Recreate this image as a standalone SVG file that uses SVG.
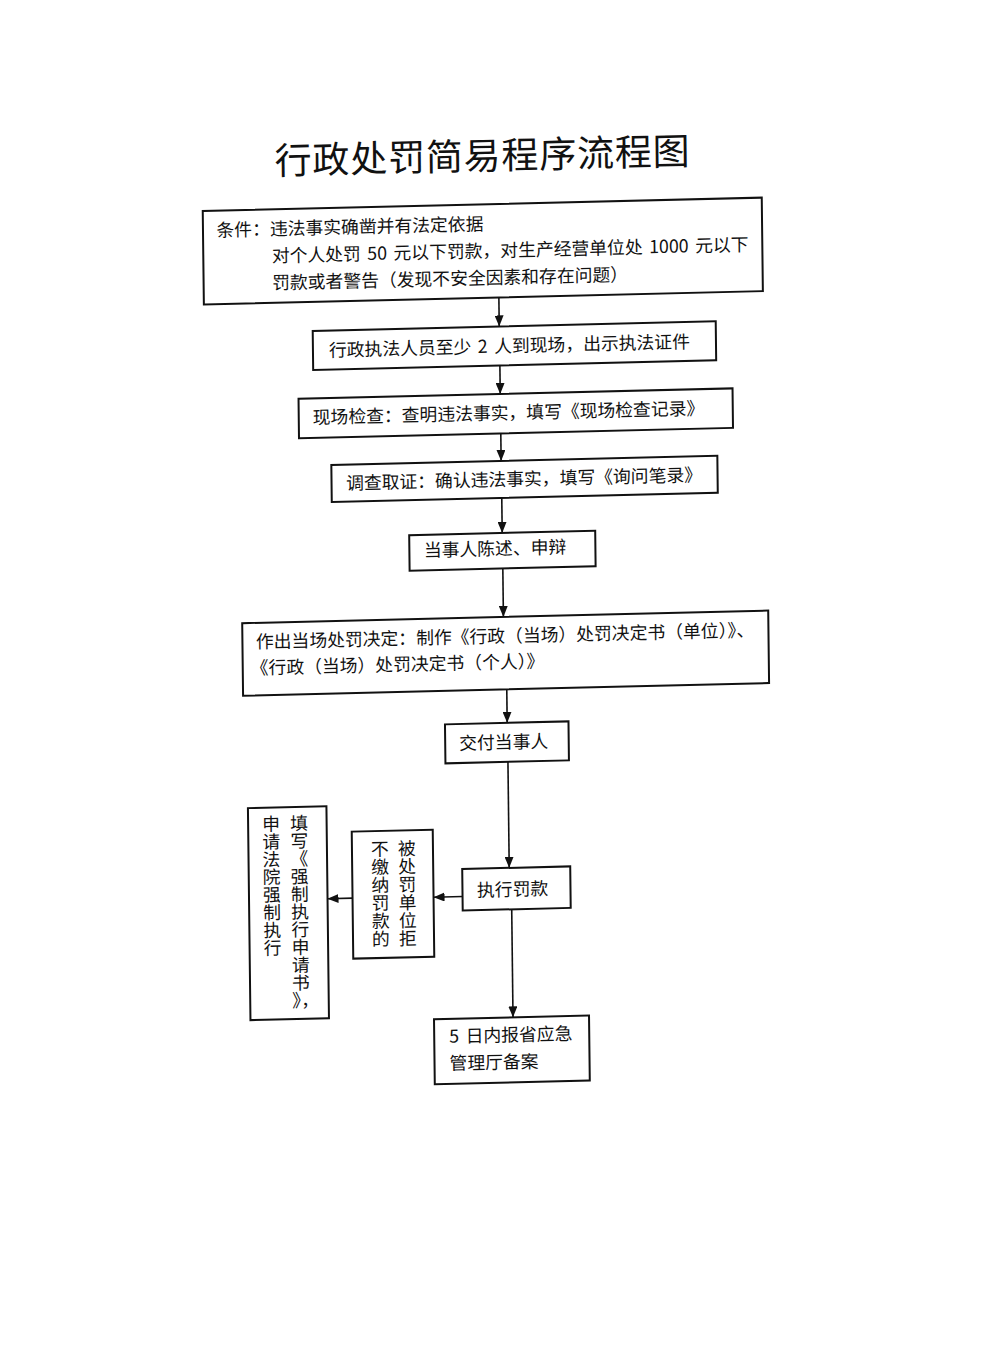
<svg xmlns="http://www.w3.org/2000/svg" width="1000" height="1355" viewBox="0 0 1000 1355">
<style>
.box{fill:none;stroke:#111;stroke-width:2}
.t{font-family:"Noto Sans CJK SC","Noto Sans",sans-serif;font-size:17.8px;fill:#111}
.ws{word-spacing:2.5px}
.title{font-family:"Noto Sans CJK SC","Noto Sans",sans-serif;font-size:37px;fill:#111;letter-spacing:0.8px}
.c{fill:none;stroke:#111;stroke-width:1.6;marker-end:url(#ah)}
</style>
<defs>
<marker id="ah" viewBox="0 0 11 9" refX="11" refY="4.5" markerWidth="11" markerHeight="9" markerUnits="userSpaceOnUse" orient="auto">
<path d="M0,0 L11,4.5 L0,9 z" fill="#111"/>
</marker>
</defs>
<rect width="1000" height="1355" fill="#fff"/>
<g transform="matrix(1 -0.024 0.012 1 -7.2 12)">
<text id="title" class="title" x="280" y="169">行政处罚简易程序流程图</text>

<g id="connectors">
<line class="c" x1="502.5" y1="298" x2="502.5" y2="326.5"/>
<line class="c" x1="502.7" y1="366" x2="502.7" y2="394"/>
<line class="c" x1="502.8" y1="434" x2="502.8" y2="461"/>
<line class="c" x1="503" y1="498" x2="503" y2="533"/>
<line class="c" x1="503.2" y1="569" x2="503.2" y2="617"/>
<line class="c" x1="505.7" y1="690" x2="505.7" y2="723"/>
<line class="c" x1="506" y1="762" x2="506" y2="868"/>
<line class="c" x1="508" y1="910" x2="508" y2="1017.5"/>
<line class="c" x1="459" y1="895.5" x2="430" y2="895.5"/>
<line class="c" x1="349" y1="894.5" x2="324" y2="894.5"/>
</g>

<g id="n1">
<rect class="box" x="207.5" y="204" width="559" height="93.5"/>
<text class="t" x="221" y="230">条件：违法事实确凿并有法定依据</text>
<text class="t ws" x="276" y="257">对个人处罚 50 元以下罚款，对生产经营单位处 1000 元以下</text>
<text class="t" x="276" y="284">罚款或者警告（发现不安全因素和存在问题）</text>
</g>
<g id="n2">
<rect class="box" x="316" y="326.5" width="403" height="39"/>
<text class="t ws" x="332" y="352.6">行政执法人员至少 2 人到现场，出示执法证件</text>
</g>
<g id="n3">
<rect class="box" x="301" y="394" width="434" height="39.5"/>
<text class="t" x="315" y="419.5">现场检查：查明违法事实，填写《现场检查记录》</text>
</g>
<g id="n4">
<rect class="box" x="333" y="461" width="386" height="37"/>
<text class="t" x="347.5" y="486">调查取证：确认违法事实，填写《询问笔录》</text>
</g>
<g id="n5">
<rect class="box" x="410" y="533" width="186" height="35.5"/>
<text class="t" x="424.5" y="555">当事人陈述、申辩</text>
</g>
<g id="n6">
<rect class="box" x="242" y="617" width="526" height="72.5"/>
<text class="t" x="255.5" y="642.5">作出当场处罚决定：制作《行政（当场）处罚决定书（单位）》、</text>
<text class="t" x="250" y="668.5">《行政（当场）处罚决定书（个人）》</text>
</g>
<g id="n7">
<rect class="box" x="443.5" y="723" width="123.5" height="39"/>
<text class="t" x="457.5" y="748.7">交付当事人</text>
</g>
<g id="n8">
<rect class="box" x="459" y="868" width="108" height="41.5"/>
<text class="t" x="473.5" y="896">执行罚款</text>
</g>
<g id="n9">
<rect class="box" x="349" y="828" width="81" height="127"/>
<text class="t">
<tspan x="395" y="852.7">被</tspan><tspan x="395" y="870.7">处</tspan><tspan x="395" y="888.7">罚</tspan><tspan x="395" y="906.7">单</tspan><tspan x="395" y="924.7">位</tspan><tspan x="395" y="942.7">拒</tspan>
<tspan x="368" y="852.7">不</tspan><tspan x="368" y="870.7">缴</tspan><tspan x="368" y="888.7">纳</tspan><tspan x="368" y="906.7">罚</tspan><tspan x="368" y="924.7">款</tspan><tspan x="368" y="942.7">的</tspan>
</text>
</g>
<g id="n10">
<rect class="box" x="245.5" y="802" width="78.5" height="212"/>
<text class="t">
<tspan x="287.5" y="825">填</tspan><tspan x="287.5" y="842.7">写</tspan><tspan x="287.5" y="860.4">《</tspan><tspan x="287.5" y="878.1">强</tspan><tspan x="287.5" y="895.8">制</tspan><tspan x="287.5" y="913.5">执</tspan><tspan x="287.5" y="931.2">行</tspan><tspan x="287.5" y="948.9">申</tspan><tspan x="287.5" y="966.6">请</tspan><tspan x="287.5" y="984.3">书</tspan><tspan x="287.5" y="1002">》，</tspan>
<tspan x="259.5" y="825">申</tspan><tspan x="259.5" y="842.7">请</tspan><tspan x="259.5" y="860.4">法</tspan><tspan x="259.5" y="878.1">院</tspan><tspan x="259.5" y="895.8">强</tspan><tspan x="259.5" y="913.5">制</tspan><tspan x="259.5" y="931.2">执</tspan><tspan x="259.5" y="948.9">行</tspan>
</text>
</g>
<g id="n11">
<rect class="box" x="429" y="1017.5" width="155" height="65"/>
<text class="t ws" x="444" y="1041.5">5 日内报省应急</text>
<text class="t" x="444" y="1068.5">管理厅备案</text>
</g>
</g>
</svg>
